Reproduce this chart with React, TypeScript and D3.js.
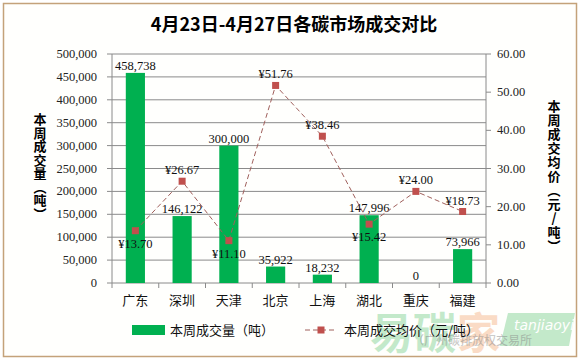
import React from 'react';
import * as d3 from 'd3';

const cities = ['广东', '深圳', '天津', '北京', '上海', '湖北', '重庆', '福建'];
const volumes = [458738, 146122, 300000, 35922, 18232, 147996, 0, 73966];
const prices = [13.7, 26.67, 11.1, 51.76, 38.46, 15.42, 24.0, 18.73];
// price label below the point?
const priceBelow = [true, false, true, false, false, true, false, false];
const volTicks = d3.range(0, 500001, 50000);
const priceTicks = d3.range(0, 61, 10);

const W = 581;
const H = 361;
const left = 112;
const right = 486;
const top = 54;
const bottom = 283;

const serif = '"Liberation Serif", "Times New Roman", serif';
const cjk = '"Noto Sans CJK SC", sans-serif';

const App = () => {
    const x = d3.scaleBand().domain(cities).range([left, right]).paddingInner(0.59).paddingOuter(0.295);
    const yVol = d3.scaleLinear().domain([0, 500000]).range([bottom, top]);
    const yPrice = d3.scaleLinear().domain([0, 60]).range([bottom, top]);
    const fmt = d3.format(',');
    const cx = (c: string) => (x(c) as number) + x.bandwidth() / 2;

    const line = d3.line<number>()
        .x((d, i) => cx(cities[i]))
        .y(d => yPrice(d));

    const leftTitle = ['本', '周', '成', '交', '量', '︵', '吨', '︶'];
    const rightTitle = ['本', '周', '成', '交', '均', '价', '︵', '元', '/', '吨', '︶'];

    return (
        <svg width={W} height={H} style={{display: 'block', position: 'absolute', left: 0, top: 0}}>
            <rect x={0} y={0} width={W} height={H} fill="#ffffff" />
            <rect x={3.5} y={3.5} width={573} height={353} fill="#fffffd" stroke="#c4a27a" strokeWidth={1.5} />

            <text x={294} y={31} textAnchor="middle" fontFamily={cjk} fontWeight="bold" fontSize={18}>
                4月23日-4月27日各碳市场成交对比
            </text>

            {/* grid */}
            {volTicks.map(t => (
                <line key={'g' + t} x1={left - 5} x2={right} y1={yVol(t)} y2={yVol(t)} stroke="#8a8a8a" strokeWidth={1} />
            ))}
            {volTicks.map(t => (
                <text key={'l' + t} x={97} y={yVol(t) + 4} textAnchor="end" fontFamily={serif} fontSize={12.5} fill="#222">
                    {fmt(t)}
                </text>
            ))}
            {priceTicks.map(t => (
                <g key={'p' + t}>
                    <line x1={right} x2={right + 5} y1={yPrice(t)} y2={yPrice(t)} stroke="#8a8a8a" />
                    <text x={497} y={yPrice(t) + 4} fontFamily={serif} fontSize={12.5} fill="#222">
                        {t.toFixed(2)}
                    </text>
                </g>
            ))}
            <line x1={left} x2={left} y1={top} y2={bottom} stroke="#8a8a8a" />
            <line x1={right} x2={right} y1={top} y2={bottom} stroke="#8a8a8a" />
            {cities.map((c, i) => (
                <line key={'xt' + c} x1={left + i * (right - left) / 8} x2={left + i * (right - left) / 8}
                      y1={bottom} y2={bottom + 5} stroke="#8a8a8a" />
            ))}
            <line x1={right} x2={right} y1={bottom} y2={bottom + 5} stroke="#8a8a8a" />

            {/* bars */}
            {cities.map((c, i) => (
                <rect key={'b' + c} x={x(c)} y={yVol(volumes[i])} width={x.bandwidth()}
                      height={bottom - yVol(volumes[i])} fill="#00b050" />
            ))}
            {cities.map((c, i) => (
                <text key={'bl' + c} x={cx(c)} y={yVol(volumes[i]) - 3} textAnchor="middle"
                      fontFamily={serif} fontSize={12.5} fill="#111">
                    {fmt(volumes[i])}
                </text>
            ))}

            {/* price line */}
            <path d={line(prices) || ''} fill="none" stroke="#a0605c" strokeWidth={1} strokeDasharray="5,3" />
            {cities.map((c, i) => (
                <rect key={'m' + c} x={cx(c) - 3.5} y={yPrice(prices[i]) - 3.5} width={7} height={7} fill="#c0504d" />
            ))}
            {cities.map((c, i) => (
                <text key={'pl' + c} x={cx(c)} y={yPrice(prices[i]) + (priceBelow[i] ? 17 : -7)} textAnchor="middle"
                      fontFamily={serif} fontSize={12.5} fill="#111">
                    {'¥' + prices[i].toFixed(2)}
                </text>
            ))}

            {/* watermark (behind the labels) */}
            <g opacity={0.45}>
                <text x={370} y={349} fontFamily={cjk} fontWeight="bold" fontSize={43} fill="#7ccf8e">易碳</text>
                <text x={457} y={349} fontFamily={cjk} fontWeight="bold" fontSize={43} fill="#f4b183">家</text>
                <path d="M508,313 L575,313 L569,346 L500,346 Z" fill="#7ccf8e" />
                <text x={514} y={330} fontFamily={'"DejaVu Sans", sans-serif'} fontStyle="italic" fontSize={14} fill="#ffffff">tanjiaoyi</text>
            </g>
            <text x={412} y={345} fontFamily={cjk} fontSize={12} fill="#888" opacity={0.5}>（广州碳排放权交易所</text>

            {/* x labels */}
            {cities.map(c => (
                <text key={'x' + c} x={cx(c)} y={305} textAnchor="middle" fontFamily={cjk} fontSize={13} fill="#111">
                    {c}
                </text>
            ))}

            {/* axis titles */}
            {leftTitle.map((ch, i) => (
                <text key={'lt' + i} x={40} y={124 + i * 13.5} textAnchor="middle" fontFamily={cjk}
                      fontWeight="bold" fontSize={13}>{ch}</text>
            ))}
            {rightTitle.map((ch, i) => (
                <text key={'rt' + i} x={554} y={111 + i * 14} textAnchor="middle" fontFamily={cjk}
                      fontWeight="bold" fontSize={13}>{ch}</text>
            ))}

            {/* legend */}
            <rect x={132} y={325} width={33} height={10} fill="#00b050" />
            <text x={170} y={335} fontFamily={cjk} fontSize={13} fill="#111">本周成交量（吨）</text>
            <line x1={305} x2={337} y1={330} y2={330} stroke="#a0605c" strokeDasharray="5,3" />
            <rect x={317.5} y={326.5} width={7} height={7} fill="#c0504d" />
            <text x={344} y={335} fontFamily={cjk} fontSize={13} fill="#111">本周成交均价（元/吨）</text>
        </svg>
    );
};

export default App;
